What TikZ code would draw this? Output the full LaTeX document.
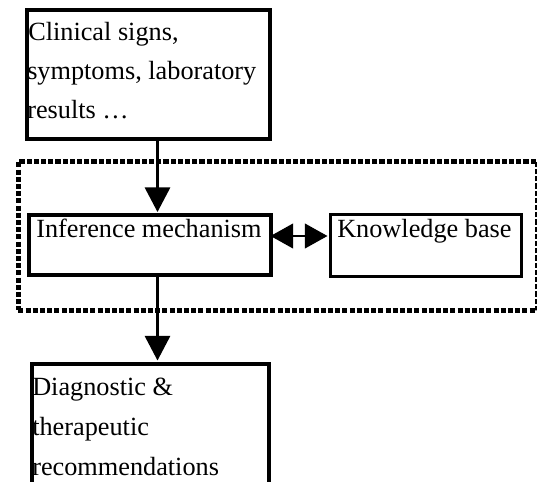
\documentclass[tikz,border=0pt]{standalone}
\usepackage{fontspec}
\setmainfont{Liberation Serif}
\usetikzlibrary{arrows.meta}
\begin{document}
\begin{tikzpicture}[x=0.75pt,y=-0.75pt,
  boxA/.style={draw=black,line width=3pt,inner sep=0pt,anchor=north west},
  boxB/.style={draw=black,line width=2.5pt,inner sep=0pt,anchor=north west},
  txt/.style={font=\fontsize{19.7}{29}\selectfont,inner sep=0pt,anchor=base west},
  conn/.style={line width=1.6pt,-{Triangle[length=18.5pt,width=19pt]}},
  dconn/.style={line width=1.6pt,{Triangle[length=17pt,width=18.5pt]}-{Triangle[length=17pt,width=18.5pt]}},
  dotbox/.style={draw=black,line width=3.5pt,dash pattern=on 3.8pt off 1.6pt}]
\useasboundingbox (0,0) rectangle (537,482);
% boxes
\node[boxA,minimum width=243*0.75pt,minimum height=129*0.75pt] (top) at (25,8) {};
\node[boxA,minimum width=242.5*0.75pt,minimum height=60.5*0.75pt] (inf) at (26.5,212.5) {};
\node[boxB,minimum width=191*0.75pt,minimum height=62*0.75pt] (kb) at (329,213) {};
\node[boxA,minimum width=237*0.75pt,minimum height=122*0.75pt] (out) at (30,362) {};
% dotted frame
\node[dotbox,inner sep=0pt,anchor=north west,minimum width=519*0.75pt,minimum height=149*0.75pt] (frame) at (16,159) {};
% texts
\node[txt] (t1) at (28,40) {Clinical signs,};
\node[txt] (t2) at (27,79) {symptoms, laboratory};
\node[txt] (t3) at (27,118) {results \dots};
\node[txt] (i1) at (36,237) {Inference mechanism};
\node[txt] (k1) at (337,237) {Knowledge base};
\node[txt] (d1) at (32,395) {Diagnostic \&};
\node[txt] (d2) at (32,435) {therapeutic};
\node[txt] (d3) at (32,475) {recommendations};
% connectors
\coordinate (a1) at (157.5,137);
\coordinate (a2) at (157.5,212);
\coordinate (b1) at (157.5,273);
\coordinate (b2) at (157.5,360.5);
\draw[conn] (a1) -- (a2);
\draw[conn] (b1) -- (b2);
\coordinate (c1) at (270.5,236);
\coordinate (c2) at (327.5,236);
\draw[dconn] (c1) -- (c2);
\end{tikzpicture}
\end{document}
